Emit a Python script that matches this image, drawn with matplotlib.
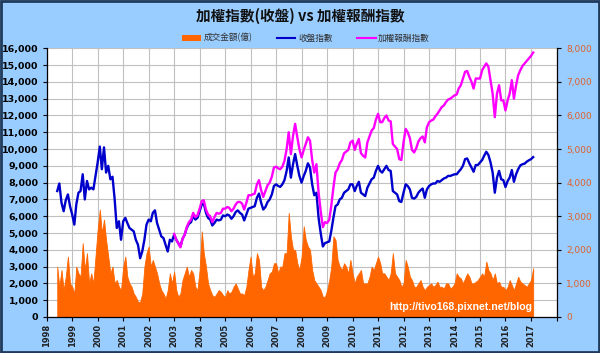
import matplotlib
matplotlib.use("Agg")
import matplotlib.pyplot as plt
from matplotlib.patches import Patch, Rectangle
from matplotlib.lines import Line2D
from matplotlib.ticker import MultipleLocator, FuncFormatter
import pandas as pd
from datetime import datetime

# --- data (monthly readings) -----------------------------------------------
MONTHS = pd.date_range("1998-06-01", "2017-02-01", freq="MS")
RET_MONTHS = pd.date_range("2003-01-01", "2017-02-01", freq="MS")

# 加權指數 收盤
close_idx = [
    7500, 7950, 6800, 6300, 6950, 7300, 6600,                                 # 1998
    6100, 5500, 6700, 7400, 7500, 8500, 7000, 8100, 7600, 7700, 7600, 8400,   # 1999
    9200, 10150, 8800, 10100, 8600, 9000, 8200, 8350, 7000, 5300, 5700, 4600, # 2000
    5700, 5900, 5600, 5300, 5200, 5100, 4600, 4300, 3500, 3900, 4600, 5500,   # 2001
    5800, 5700, 6200, 6350, 5600, 5200, 4800, 4700, 4300, 3900, 4600, 4500,   # 2002
    4900, 4600, 4400, 4200, 4650, 4900, 5300, 5550, 5650, 6050, 5800, 5900,   # 2003
    6300, 6700, 6750, 6200, 5900, 5800, 5450, 5600, 5800, 5750, 5800, 6050,   # 2004
    6000, 6100, 6050, 5850, 6000, 6250, 6350, 6200, 6100, 5750, 6100, 6450,   # 2005
    6500, 6550, 6600, 7100, 7350, 6800, 6400, 6550, 6850, 7000, 7300, 7800,   # 2006
    7900, 7800, 7750, 7900, 8150, 8700, 9500, 8300, 9100, 9700, 9000, 8400,   # 2007
    8000, 8400, 8700, 9150, 8900, 7900, 7250, 7400, 5900, 5000, 4200, 4400,   # 2008
    4450, 4500, 5100, 5900, 6600, 6700, 7000, 7100, 7400, 7500, 7600, 7900,   # 2009
    7900, 7500, 7800, 8050, 7400, 7300, 7200, 7700, 7950, 8200, 8300, 8700,   # 2010
    9000, 8700, 8600, 8800, 9000, 8750, 8700, 7500, 7400, 7300, 6900, 6850,   # 2011
    7400, 7900, 7800, 7600, 7100, 7050, 7150, 7400, 7550, 7650, 7100, 7600,   # 2012
    7800, 7900, 7950, 7950, 8100, 8050, 8150, 8250, 8300, 8400, 8400, 8450,   # 2013
    8500, 8500, 8650, 8800, 9000, 9400, 9440, 9150, 8900, 8650, 9050, 9050,   # 2014
    9200, 9350, 9600, 9840, 9650, 9200, 8600, 7400, 8300, 8700, 8200, 8150,   # 2015
    7740, 8100, 8300, 8750, 8050, 8500, 8800, 9030, 9100, 9130, 9250, 9330,   # 2016
    9400, 9520,                                                               # 2017
]

# 加權報酬指數
return_idx = [
    4950, 4600, 4400, 4150, 4650, 4900, 5350, 5650, 5800, 6200, 5950, 6050,          # 2003
    6450, 6900, 6950, 6400, 6100, 6000, 5650, 5950, 6200, 6150, 6200, 6450,          # 2004
    6450, 6550, 6500, 6300, 6450, 6700, 6850, 6850, 6750, 6400, 6800, 7250,          # 2005
    7250, 7300, 7350, 7900, 8150, 7550, 7150, 7500, 7850, 8000, 8350, 8900,          # 2006
    8950, 8850, 8800, 8950, 9300, 10000, 11000, 9700, 10800, 11500, 10700, 10000,    # 2007
    9500, 9950, 10300, 10700, 10500, 9350, 8600, 9100, 7400, 6300, 5350, 5650,       # 2008
    5600, 5800, 6600, 7700, 8600, 8800, 9150, 9350, 9750, 9850, 9950, 10400,         # 2009
    10500, 9950, 10300, 10600, 9750, 9600, 9500, 10400, 10750, 11100, 11250, 11750,  # 2010
    12100, 11600, 11600, 11850, 12000, 11700, 11650, 10300, 10150, 10000, 9400, 9350,# 2011
    10400, 11200, 11000, 10650, 9950, 9800, 10050, 10450, 10650, 10750, 10400, 11300,# 2012
    11600, 11700, 11750, 11950, 12100, 12300, 12500, 12600, 12800, 12950, 13000, 13100,  # 2013
    13200, 13250, 13600, 13800, 14200, 14600, 14650, 14300, 14000, 13600, 14200, 14200,  # 2014
    14200, 14700, 14900, 15100, 14900, 14100, 13300, 11900, 13300, 13800, 12900, 12900,  # 2015
    12300, 12900, 13300, 14100, 13000, 13800, 14400, 14700, 14950, 15100, 15250, 15400,  # 2016
    15550, 15750,                                                                     # 2017
]

# 成交金額(億)
turnover = [
    1500, 900, 1400, 800, 1200, 1800, 1000,                                   # 1998
    900, 700, 1500, 1300, 1200, 2200, 1400, 1900, 1000, 1300, 1000, 1800,     # 1999
    2600, 3200, 2500, 2900, 2300, 1800, 1300, 1500, 1000, 1100, 900, 800,     # 2000
    1500, 1800, 1200, 1000, 900, 700, 600, 450, 450, 700, 1500, 1900,         # 2001
    2100, 1500, 1700, 1500, 1300, 1000, 800, 700, 550, 800, 1300, 1000,       # 2002
    1350, 800, 600, 700, 1100, 1300, 1500, 1200, 1400, 1300, 900, 800,        # 2003
    1400, 2550, 1900, 1500, 1000, 800, 650, 600, 700, 800, 750, 650,          # 2004
    600, 800, 700, 750, 900, 1000, 850, 700, 700, 650, 900, 1400,             # 2005
    1800, 1200, 1300, 1900, 1700, 900, 800, 900, 1100, 1300, 1350, 1600,      # 2006
    1600, 1300, 1500, 1500, 1900, 1900, 3100, 2400, 2000, 2000, 1600, 1400,   # 2007
    1800, 2700, 2300, 2100, 2000, 1400, 1100, 1000, 900, 800, 600, 600,       # 2008
    800, 1100, 1500, 2400, 2300, 1700, 1500, 1400, 1600, 1500, 1300, 1700,    # 2009
    1300, 1000, 1200, 1300, 1400, 1000, 1000, 1000, 1200, 1500, 1400, 1600,   # 2010
    1800, 1600, 1300, 1300, 1200, 1100, 1300, 1900, 1300, 1200, 1100, 900,    # 2011
    1000, 1700, 1500, 1200, 1100, 900, 900, 1000, 1100, 900, 800, 900,        # 2012
    950, 1000, 900, 950, 1050, 900, 900, 850, 1000, 1000, 850, 900,           # 2013
    1000, 1300, 1200, 1150, 1000, 1150, 1300, 1200, 1000, 1000, 1050, 1100,   # 2014
    1200, 1300, 1200, 1650, 1400, 1300, 1100, 1300, 1000, 1050, 900, 900,     # 2015
    800, 900, 1100, 950, 800, 1000, 1200, 1050, 1000, 950, 900, 1000,         # 2016
    1100, 1450,                                                               # 2017
]

YEARS = list(range(1998, 2019))

# --- style -------------------------------------------------------------------
BG = "#99CCFF"
FRAME = "#1F3A5A"
ORANGE = "#FF6600"
BLUE = "#0000CC"
MAGENTA = "#FF00FF"
GRID = "#C0C0C0"
RIGHT_TXT = "#E0602A"
CJK = ["Noto Sans CJK TC", "DejaVu Sans"]

plt.rcParams["font.family"] = ["DejaVu Sans"]

fig = plt.figure(figsize=(6, 3.53), dpi=100, facecolor=BG)
fig.patches.append(Rectangle((0.0015, 0.0025), 0.997, 0.995, transform=fig.transFigure,
                             fill=False, edgecolor=FRAME, linewidth=2.0))

rect = [46.7 / 600, 1 - 317 / 353, (556.5 - 46.7) / 600, (317 - 48.3) / 353]

# volume axis (bottom layer, carries the grid and the right-hand scale)
axv = fig.add_axes(rect)
axv.set_facecolor("white")
axv.fill_between(MONTHS, turnover, 0, color=ORANGE, linewidth=0.6, edgecolor=ORANGE, zorder=2)
axv.set_ylim(0, 8000)
axv.yaxis.tick_right()
axv.yaxis.set_major_locator(MultipleLocator(1000))
axv.yaxis.set_minor_locator(MultipleLocator(500))
axv.yaxis.set_major_formatter(FuncFormatter(lambda v, _: f"{v:,.0f}"))
axv.tick_params(axis="y", which="major", colors="black", labelcolor=RIGHT_TXT,
                labelsize=6.5, length=3, width=0.8, direction="out", pad=4)
axv.tick_params(axis="y", which="minor", length=0)
axv.grid(True, which="both", axis="y", color=GRID, linewidth=0.8, zorder=0)
axv.grid(True, which="major", axis="x", color=GRID, linewidth=0.8, zorder=0)
axv.set_axisbelow(True)

axv.set_xlim(datetime(1998, 1, 1), datetime(2018, 1, 1))
axv.set_xticks([datetime(y, 1, 1) for y in YEARS])
axv.set_xticklabels([str(y) if y < 2018 else "" for y in YEARS],
                    rotation=90, fontsize=6, fontweight="bold", color="#202020")
axv.tick_params(axis="x", length=3, width=0.8, direction="out", pad=2)
for side in ("top", "left"):
    axv.spines[side].set_visible(False)
for side in ("bottom", "right"):
    axv.spines[side].set_color("black")
    axv.spines[side].set_linewidth(0.9)

# index axis (top layer, transparent)
ax = fig.add_axes(rect, sharex=axv)
ax.patch.set_visible(False)
ax.plot(MONTHS, close_idx, color=BLUE, linewidth=1.7, zorder=3)
ax.plot(RET_MONTHS, return_idx, color=MAGENTA, linewidth=1.7, zorder=4)
ax.set_ylim(0, 16000)
ax.yaxis.set_major_locator(MultipleLocator(1000))
ax.yaxis.set_major_formatter(FuncFormatter(lambda v, _: f"{v:,.0f}"))
ax.tick_params(axis="y", labelsize=6.8, length=3, width=0.8, direction="out", pad=3)
for lab in ax.get_yticklabels():
    lab.set_fontweight("bold")
ax.tick_params(axis="x", bottom=False, labelbottom=False)
for side in ("top", "right", "bottom"):
    ax.spines[side].set_visible(False)
ax.spines["left"].set_color("black")
ax.spines["left"].set_linewidth(0.9)

# title, legend, watermark
fig.text(0.5, 1 - 16 / 353, "加權指數(收盤) vs 加權報酬指數", ha="center", va="center",
         fontsize=10.5, fontweight="bold", family=CJK, color="#101010")

handles = [Patch(facecolor=ORANGE, edgecolor="none"),
           Line2D([], [], color=BLUE, linewidth=1.5),
           Line2D([], [], color=MAGENTA, linewidth=1.5)]
labels = ["成交金額(億)", "收盤指數", "加權報酬指數"]
fig.legend(handles, labels, loc="center", bbox_to_anchor=(0.51, 1 - 38 / 353), ncol=3,
           frameon=False, prop={"family": CJK, "size": 6.2}, handlelength=2.2,
           handleheight=0.7, columnspacing=2.8, handletextpad=0.3, labelcolor="#303030")

fig.text(532 / 600, 1 - 307.5 / 353, "http://tivo168.pixnet.net/blog", ha="right",
         va="center", fontsize=7.6, fontweight="bold", color="white",
         family=["Liberation Sans", "DejaVu Sans"], zorder=10)

fig.savefig("out.png", dpi=100, facecolor=BG)
